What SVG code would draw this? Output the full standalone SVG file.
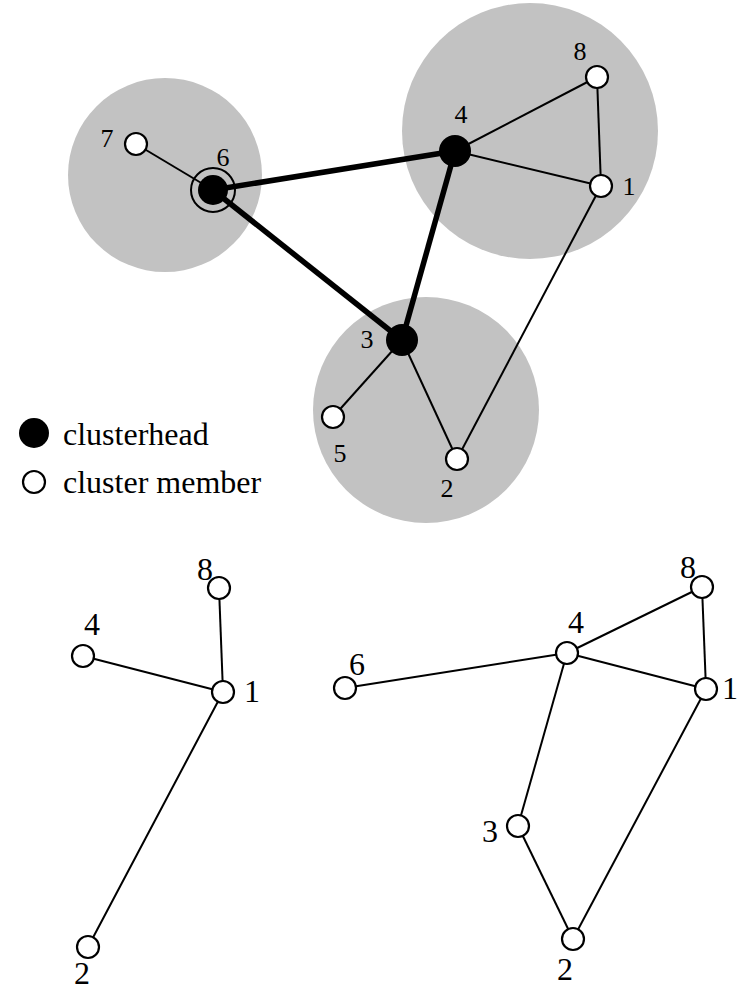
<svg xmlns="http://www.w3.org/2000/svg" width="739" height="988" viewBox="0 0 739 988">
  <style>
    .zone { fill: #c2c2c2; stroke: none; }
    .edge { stroke: #000; stroke-width: 2; fill: none; }
    .thick { stroke: #000; stroke-width: 5.5; fill: none; }
    .member { fill: #fff; stroke: #000; stroke-width: 2.2; }
    .head { fill: #000; stroke: none; }
    .ring { fill: none; stroke: #000; stroke-width: 2; }
    .lbl { font-family: "Liberation Serif", "Times New Roman", serif; font-size: 26px; fill: #000; text-anchor: middle; }
    .lbl2 { font-family: "Liberation Serif", "Times New Roman", serif; font-size: 32px; fill: #000; text-anchor: middle; }
    .legend { font-family: "Liberation Serif", "Times New Roman", serif; font-size: 32px; fill: #000; }
  </style>
  <rect width="739" height="988" fill="#fff"/>

  <!-- cluster areas -->
  <g id="clusters">
    <circle class="zone" cx="165" cy="175" r="97"/>
    <circle class="zone" cx="530" cy="131" r="128"/>
    <circle class="zone" cx="426" cy="410" r="113"/>
  </g>

  <!-- clustered network connectors -->
  <g id="connectors-top">
    <line class="edge" x1="136" y1="144" x2="213" y2="190"/>
    <line class="edge" x1="455" y1="151" x2="597" y2="77"/>
    <line class="edge" x1="455" y1="151" x2="601" y2="186"/>
    <line class="edge" x1="597" y1="77" x2="601" y2="186"/>
    <line class="edge" x1="601" y1="186" x2="457" y2="459"/>
    <line class="edge" x1="402" y1="340" x2="333" y2="417"/>
    <line class="edge" x1="402" y1="340" x2="457" y2="459"/>
    <line class="thick" x1="213" y1="190" x2="455" y2="151"/>
    <line class="thick" x1="213" y1="190" x2="402" y2="340"/>
    <line class="thick" x1="455" y1="151" x2="402" y2="340"/>
  </g>

  <!-- clustered network nodes -->
  <g id="t7"><circle class="member" cx="136" cy="144" r="11"/><text class="lbl" x="107" y="147">7</text></g>
  <g id="t6"><circle class="ring" cx="213" cy="190" r="22"/><circle class="head" cx="213" cy="190" r="15"/><text class="lbl" x="223" y="166">6</text></g>
  <g id="t4"><circle class="head" cx="455" cy="151" r="16"/><text class="lbl" x="461" y="123">4</text></g>
  <g id="t8"><circle class="member" cx="597" cy="77" r="11"/><text class="lbl" x="580" y="60">8</text></g>
  <g id="t1"><circle class="member" cx="601" cy="186" r="11"/><text class="lbl" x="629" y="195">1</text></g>
  <g id="t3"><circle class="head" cx="402" cy="340" r="16"/><text class="lbl" x="367" y="348">3</text></g>
  <g id="t5"><circle class="member" cx="333" cy="417" r="11"/><text class="lbl" x="340" y="462">5</text></g>
  <g id="t2"><circle class="member" cx="457" cy="459" r="11"/><text class="lbl" x="447" y="497">2</text></g>

  <!-- legend -->
  <g id="legend">
    <circle class="head" cx="34" cy="433" r="15"/>
    <text class="legend" x="63" y="445">clusterhead</text>
    <circle class="member" cx="34" cy="482" r="11"/>
    <text class="legend" x="63" y="493">cluster member</text>
  </g>

  <!-- left subgraph connectors -->
  <g id="connectors-left">
    <line class="edge" x1="219" y1="588" x2="223" y2="692"/>
    <line class="edge" x1="83" y1="656" x2="223" y2="692"/>
    <line class="edge" x1="223" y1="692" x2="88" y2="947"/>
  </g>
  <g id="l8"><circle class="member" cx="219" cy="588" r="11"/><text class="lbl2" x="205" y="580">8</text></g>
  <g id="l4"><circle class="member" cx="83" cy="656" r="11"/><text class="lbl2" x="92" y="635">4</text></g>
  <g id="l1"><circle class="member" cx="223" cy="692" r="11"/><text class="lbl2" x="252" y="702">1</text></g>
  <g id="l2"><circle class="member" cx="88" cy="947" r="11"/><text class="lbl2" x="82" y="984">2</text></g>

  <!-- right subgraph connectors -->
  <g id="connectors-right">
    <line class="edge" x1="345" y1="688" x2="567" y2="653"/>
    <line class="edge" x1="567" y1="653" x2="702" y2="587"/>
    <line class="edge" x1="567" y1="653" x2="706" y2="689"/>
    <line class="edge" x1="702" y1="587" x2="706" y2="689"/>
    <line class="edge" x1="567" y1="653" x2="518" y2="826"/>
    <line class="edge" x1="518" y1="826" x2="573" y2="939"/>
    <line class="edge" x1="706" y1="689" x2="573" y2="939"/>
  </g>
  <g id="r6"><circle class="member" cx="345" cy="688" r="11"/><text class="lbl2" x="357" y="675">6</text></g>
  <g id="r4"><circle class="member" cx="567" cy="653" r="11"/><text class="lbl2" x="576" y="633">4</text></g>
  <g id="r8"><circle class="member" cx="702" cy="587" r="11"/><text class="lbl2" x="688" y="578">8</text></g>
  <g id="r1"><circle class="member" cx="706" cy="689" r="11"/><text class="lbl2" x="730" y="699">1</text></g>
  <g id="r3"><circle class="member" cx="518" cy="826" r="11"/><text class="lbl2" x="490" y="842">3</text></g>
  <g id="r2"><circle class="member" cx="573" cy="939" r="11"/><text class="lbl2" x="565" y="980">2</text></g>
</svg>
